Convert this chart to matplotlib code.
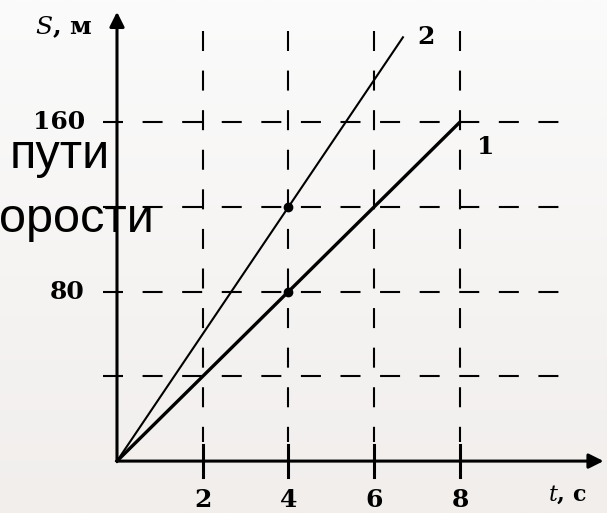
import numpy as np
import matplotlib.pyplot as plt

# motion graphs S(t) for two bodies
t1 = [0, 8]
s1 = [0, 160]
t2 = [0, 6.67]
s2 = [0, 200]
dots_t = [4, 4]
dots_s = [80, 120]

grid_t = [2, 4, 6, 8]
grid_s = [40, 80, 120, 160]
xtick_labels = ['2', '4', '6', '8']
ytick_labels = {160: '160', 80: '80'}

fig = plt.figure(figsize=(6.07, 5.13), dpi=100)
ax = fig.add_axes([0, 0, 1, 1])
ax.set_xlim(-2.729, 11.43)
ax.set_ylim(-24.5, 217.6)
ax.axis('off')

# soft light-grey background
grad = np.linspace(0, 1, 256).reshape(-1, 1)
bg = np.zeros((256, 1, 3))
top = np.array([251, 251, 251]) / 255
bot = np.array([241, 238, 236]) / 255
bg[:, 0, :] = top * (1 - grad) + bot * grad
ax.imshow(bg, extent=[-2.729, 11.43, -24.5, 217.6], aspect='auto', zorder=0)

# dashed grid
dash = (0, (9.6, 9.4))
for s in grid_s:
    ax.plot([-0.33, 10.3], [s, s], color='black', lw=1.5, linestyle=dash, zorder=2)
for t in grid_t:
    ax.plot([t, t], [203, 9], color='black', lw=1.5, linestyle=dash, zorder=2)
    ax.plot([t, t], [-7.3, 7.5], color='black', lw=2.2, zorder=3)

# axes with arrows
ax.annotate('', xy=(11.35, 0), xytext=(0, 0),
            arrowprops=dict(arrowstyle='-|>', color='black', lw=2.2,
                            mutation_scale=22, shrinkA=0, shrinkB=0), zorder=3)
ax.annotate('', xy=(0, 212), xytext=(0, 0),
            arrowprops=dict(arrowstyle='-|>', color='black', lw=2.2,
                            mutation_scale=22, shrinkA=0, shrinkB=0), zorder=3)

# graphs
ax.plot(t1, s1, color='black', lw=2.4, zorder=4)
ax.plot(t2, s2, color='black', lw=1.5, zorder=4)
ax.plot(dots_t, dots_s, 'o', color='black', ms=6, zorder=5)

serif = dict(family='DejaVu Serif', fontweight='bold', color='black')
for t, lab in zip(grid_t, xtick_labels):
    ax.text(t, -18.4, lab, ha='center', va='center', fontsize=18, **serif)
for s, lab in ytick_labels.items():
    ax.text(-0.75, s, lab, ha='right', va='center', fontsize=18, **serif)

ax.text(8.4, 148, '1', ha='left', va='center', fontsize=18, **serif)
ax.text(7.0, 200, '2', ha='left', va='center', fontsize=18, **serif)

plt.rcParams['mathtext.fontset'] = 'dejavuserif'
ax.text(-0.58, 204.8, r'$S$, м', ha='right', va='center', fontsize=18, **serif)
ax.text(10.05, -16, r'$t$, с', ha='left', va='center', fontsize=16, **serif)

# slide caption fragments over the chart
sans = dict(family=['Liberation Sans', 'DejaVu Sans'], color='black', zorder=6)
ax.text(-2.5, 138.3, 'пути', ha='left', va='baseline', fontsize=35, **sans)
ax.text(-2.76, 108, 'орости', ha='left', va='baseline', fontsize=35, **sans)

fig.savefig('out.png', dpi=100)
